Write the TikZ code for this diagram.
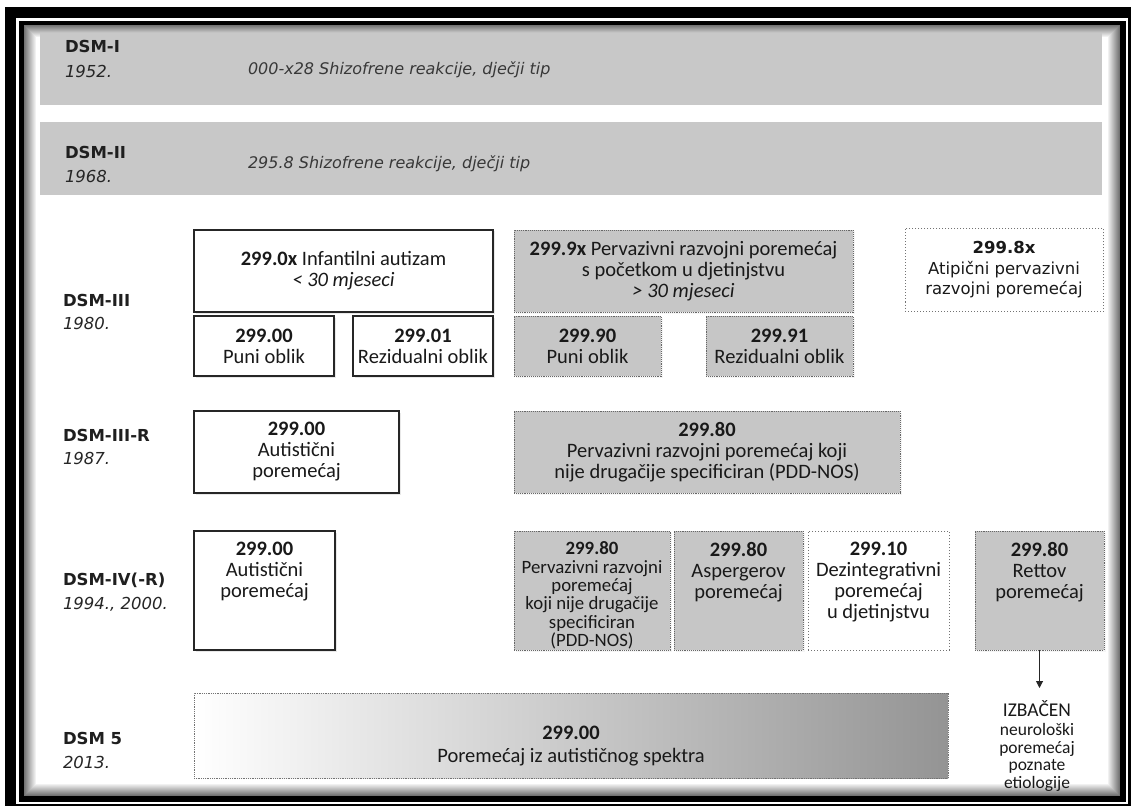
\documentclass[tikz,border=0pt]{standalone}
\usepackage{fontspec}
\setmainfont{Carlito}
\newfontfamily\vfont{DejaVu Sans}
\usetikzlibrary{arrows.meta,shadows}
\definecolor{bandgray}{RGB}{200,200,200}
\definecolor{boxgray}{RGB}{198,198,198}
\definecolor{gradend}{RGB}{148,148,148}
\begin{document}
\begin{tikzpicture}[x=1pt,y=-1pt,
  every node/.style={inner sep=0pt, outer sep=0pt},
  lab/.style={anchor=base west, font=\vfont\fontsize{16.5}{20}\selectfont\bfseries, text=black!88},
  yr/.style={anchor=base west, font=\vfont\fontsize{16.5}{20}\selectfont\itshape, text=black!85},
  rowtxt/.style={anchor=base west, font=\vfont\fontsize{16}{20}\selectfont\itshape, text=black!78},
  band/.style={fill=bandgray, draw=none},
  boxfont/.style={align=center, font=\fontsize{20.5}{21}\selectfont, text=black!90},
  solidbox/.style={draw=black!85, line width=1.8pt, fill=white, boxfont,
    drop shadow={opacity=0.18, shadow xshift=1.5pt, shadow yshift=-1.5pt}},
  graybox/.style={draw=black!60, line width=0.9pt, densely dotted, fill=boxgray, boxfont,
    drop shadow={opacity=0.08, shadow xshift=1.5pt, shadow yshift=-1.5pt}},
  dotbox/.style={draw=black!55, line width=0.9pt, dash pattern=on 1pt off 2pt, fill=white, boxfont},
  intxt/.style={anchor=north, align=center, font=\fontsize{20.5}{21}\selectfont, text=black!90},
  arr/.style={-{Triangle[length=7pt,width=7pt]}, line width=1pt, black!85}
]
\useasboundingbox (0,0) rectangle (1132,810);
% frame
\fill[black] (5,7) rectangle (1131,806);
\fill[white] (16,18) rectangle (1128,804);
\fill[black] (19,21) rectangle (1126,802);
\fill[white] (24,25) rectangle (1120,796);
\foreach \i in {0,...,11}{
  \pgfmathsetmacro\c{55-4.5*\i}
  \draw[black!\c, line width=1pt] (24.5+\i,25.5+\i) rectangle (1119.5-\i,795.5-\i);
}
% bands
\node[band, minimum width=1062pt, minimum height=72pt] (band1) at (571,69) {};
\node[band, minimum width=1062pt, minimum height=73pt] (band2) at (571,158.5) {};
% labels
\node[lab] (l1) at (65,53) {DSM-I};
\node[yr] (y1) at (65,78) {1952.};
\node[rowtxt] (t1) at (248,75) {000-x28 Shizofrene reakcije, dječji tip};
\node[lab] (l2) at (65,159) {DSM-II};
\node[yr] (y2) at (65,183) {1968.};
\node[rowtxt] (t2) at (248,169) {295.8 Shizofrene reakcije, dječji tip};
\node[lab] (l3) at (63,306) {DSM-III};
\node[yr] (y3) at (63,329) {1980.};
\node[lab] (l4) at (63,441) {DSM-III-R};
\node[yr] (y4) at (63,464) {1987.};
\node[lab] (l5) at (63,585) {DSM-IV(-R)};
\node[yr] (y5) at (63,609) {1994., 2000.};
\node[lab] (l6) at (63,744) {DSM 5};
\node[yr] (y6) at (63,768) {2013.};
% DSM-III
\node[solidbox, minimum width=299pt, minimum height=82pt] (inf) at (343.5,271)
  {\textbf{299.0x} Infantilni autizam\\\textit{< 30 mjeseci}};
\node[solidbox, minimum width=140pt, minimum height=60pt] (puni1) at (264,346)
  {\textbf{299.00}\\Puni oblik};
\node[solidbox, minimum width=140pt, minimum height=60pt] (rez1) at (423,346)
  {\textbf{299.01}\\Rezidualni oblik};
\node[graybox, minimum width=339pt, minimum height=82pt] (b9x) at (683.5,271)
  {\textbf{299.9x} Pervazivni razvojni poremećaj\\s početkom u djetinjstvu\\\textit{> 30 mjeseci}};
\node[graybox, minimum width=147pt, minimum height=60pt] (puni9) at (587.5,346)
  {\textbf{299.90}\\Puni oblik};
\node[graybox, minimum width=147pt, minimum height=60pt] (rez9) at (779.5,346)
  {\textbf{299.91}\\Rezidualni oblik};
\node[dotbox, minimum width=198pt, minimum height=83pt, font=\vfont\fontsize{16.5}{20.5}\selectfont] (atyp) at (1004,270)
  {\textbf{299.8x}\\Atipični pervazivni\\razvojni poremećaj};
% DSM-III-R
\node[solidbox, minimum width=205pt, minimum height=82pt] (aut3) at (296.5,452)
  {\textbf{299.00}\\Autistični\\poremećaj};
\node[graybox, minimum width=386pt, minimum height=82pt] (pdd3) at (707,452)
  {\textbf{299.80}\\Pervazivni razvojni poremećaj koji\\nije drugačije specificiran (PDD-NOS)};
% DSM-IV
\node[solidbox, minimum width=141pt, minimum height=119pt] (aut4) at (264.5,590.5) {};
\node[graybox, minimum width=156pt, minimum height=119pt] (pdd4) at (592,590.5) {};
\node[graybox, minimum width=129pt, minimum height=119pt] (asp4) at (738.5,590.5) {};
\node[dotbox, minimum width=141pt, minimum height=119pt] (dez4) at (878.5,590.5) {};
\node[graybox, minimum width=129pt, minimum height=119pt] (ret4) at (1039.5,590.5) {};
\node[intxt] (aut4t) at (264.5,542.5) {\textbf{299.00}\\Autistični\\poremećaj};
\node[intxt, font=\fontsize{18.8}{18.3}\selectfont] (pdd4t) at (592,542)
  {\textbf{299.80}\\Pervazivni razvojni\\poremećaj\\koji nije drugačije\\specificiran\\(PDD-NOS)};
\node[intxt] (asp4t) at (738.5,542.5) {\textbf{299.80}\\Aspergerov\\poremećaj};
\node[intxt] (dez4t) at (878.5,542.5) {\textbf{299.10}\\Dezintegrativni\\poremećaj\\u djetinjstvu};
\node[intxt] (ret4t) at (1039.5,542.5) {\textbf{299.80}\\Rettov\\poremećaj};
% DSM 5
\node[draw=black!55, line width=0.8pt, densely dotted, left color=white, right color=gradend,
  minimum width=754pt, minimum height=85pt] (dsm5) at (571,735.5) {};
\node[anchor=base, align=center, font=\fontsize{20.5}{23}\selectfont, text=black!90] (dsm5t) at (571,762)
  {\textbf{299.00}\\Poremećaj iz autističnog spektra};
% arrow and removed note
\coordinate (arrend) at (1039.5,688);
\draw[arr] (ret4.south) -- (arrend);
\node[anchor=base, align=center, font=\fontsize{17.5}{17.5}\selectfont, text=black!90] (izb) at (1037,788)
  {{\fontsize{19.5}{17.5}\selectfont IZBAČEN}\\[2pt]neurološki\\poremećaj\\poznate\\etiologije};
\end{tikzpicture}
\end{document}
